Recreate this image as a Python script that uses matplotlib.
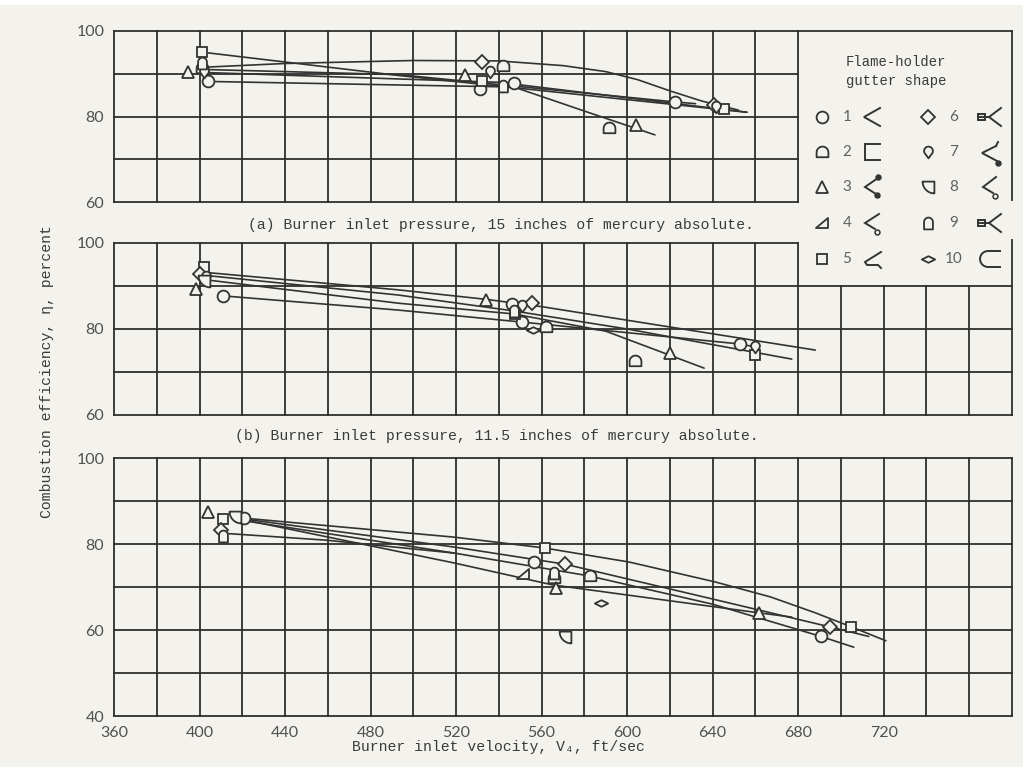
import numpy as np
import matplotlib
matplotlib.use('Agg')
import matplotlib.pyplot as plt
from matplotlib.path import Path
from matplotlib.patches import Rectangle

# ==============================================================================
# DATA
# gutter shape of each test point, burner inlet velocity (ft/sec), efficiency (%)
# ==============================================================================
# (a) burner inlet pressure 15 in. Hg abs
a_shape = [5, 9, 2, 7, 3, 1, 6, 7, 2, 3, 5, 1, 9, 1, 1, 6, 7, 5, 2, 3]
a_vel = [401, 401, 401, 402, 394.5, 404, 532, 536, 542, 524, 532, 531, 542, 547,
         622.5, 640.5, 641.5, 645.5, 591.5, 604]
a_eff = [95.0, 92.6, 91.3, 90.5, 90.3, 88.2, 92.8, 90.5, 91.8, 89.7, 88.3, 86.5,
         87.2, 87.8, 83.4, 82.8, 82.2, 81.8, 77.3, 78.0]

# (b) burner inlet pressure 11.5 in. Hg abs
b_shape = [5, 6, 7, 8, 3, 1, 3, 1, 7, 6, 9, 5, 1, 10, 2, 2, 3, 1, 7, 5]
b_vel = [402, 400, 403, 402, 398.5, 411, 534, 546, 551, 555.5, 547, 547.5, 551,
         556, 562, 603.5, 620, 653, 660, 660]
b_eff = [94.4, 92.8, 92.0, 91.2, 89.3, 87.7, 86.7, 85.8, 85.3, 86.0, 84.3, 83.6,
         81.6, 79.8, 80.5, 72.6, 74.4, 76.5, 75.8, 74.0]

# (c) third pressure level
c_shape = [3, 5, 8, 1, 6, 9, 5, 1, 4, 9, 2, 3, 6, 2, 10, 8, 3, 1, 6, 5]
c_vel = [404, 411, 416.5, 421, 410, 411, 561.5, 556.5, 551.5, 566, 566, 566.5,
         571, 582.5, 588, 571, 661.5, 690.5, 695, 704.5]
c_eff = [87.4, 85.8, 86.3, 86.0, 83.3, 81.9, 79.1, 75.8, 73.0, 73.3, 72.1, 69.8,
         75.3, 72.6, 66.3, 58.4, 64.0, 58.6, 60.7, 60.7]

# faired curves (velocity / efficiency points)
a_fair_vel = [[401, 440, 500, 540, 570, 590, 605, 620, 635, 652],
              [402, 493, 580, 656],
              [402, 493, 622.5, 632],
              [402, 540, 656],
              [404, 512, 547, 581, 613]]
a_fair_eff = [[91.5, 92.4, 93.1, 93.0, 91.9, 90.5, 88.6, 86.0, 83.6, 81.5],
              [95.0, 89.6, 85.0, 81.0],
              [91.0, 89.8, 83.4, 83.0],
              [90.3, 88.0, 81.0],
              [88.2, 87.2, 86.9, 81.1, 75.7]]

b_fair_vel = [[402, 493, 534, 560, 688],
              [402, 493, 547, 600, 677],
              [402, 493, 547, 590, 636],
              [411, 493, 551, 653, 660]]
b_fair_eff = [[93.2, 89.1, 86.9, 85.2, 75.1],
              [92.5, 87.9, 84.2, 80.0, 73.0],
              [91.5, 86.0, 83.5, 79.5, 70.9],
              [87.7, 84.4, 81.6, 76.5, 75.8]]

c_fair_vel = [[421, 519, 561, 601, 641, 667, 688, 705, 721],
              [421, 519, 571, 640, 695, 713],
              [421, 519, 565, 661.5, 677],
              [421, 519, 582, 640, 690, 706],
              [411, 459, 519]]
c_fair_eff = [[86.0, 81.6, 79.1, 75.8, 71.2, 67.7, 64.0, 60.7, 57.5],
              [85.8, 79.3, 75.3, 67.2, 60.7, 58.5],
              [85.6, 75.6, 70.5, 64.0, 63.0],
              [85.4, 77.9, 72.6, 66.0, 58.6, 56.0],
              [82.5, 80.9, 77.9]]

x_ticks = [360, 400, 440, 480, 520, 560, 600, 640, 680, 720]
legend_numbers = [1, 2, 3, 4, 5, 6, 7, 8, 9, 10]

# ==============================================================================
# STYLE
# ==============================================================================
W, H = 1023, 767
PAPER = '#f3f2ed'
INK = '#333333'
GRID = '#2e2e2e'
MONO = ['Liberation Mono', 'DejaVu Sans Mono']
SANS = ['Lato', 'DejaVu Sans']


def fx(px):
    return px / W


def fy(py):
    return 1 - py / H


def arco(cx, cy, r, t0, t1, n=18):
    t = np.linspace(t0, t1, n)
    return list(zip(cx + r * np.cos(t), cy + r * np.sin(t)))


def caminho(verts):
    return Path(verts + [verts[0]], closed=True)


house = caminho([(-1, -0.8), (1, -0.8), (1, 0)] + arco(0, 0, 1, 0, np.pi)[1:])
tall_d = caminho([(-0.75, -1), (0.75, -1), (0.75, 0.25)] + arco(0, 0.25, 0.75, 0, np.pi)[1:])
drop = caminho(arco(0, 0.25, 0.75, -0.9, np.pi + 0.9) + [(0, -1)])
quarter = caminho([(-1, 1), (1, 1), (1, -1)] + arco(1, 1, 2, 1.5 * np.pi, np.pi)[1:-1])
rtri = caminho([(-1, -0.9), (1, -0.9), (1, 0.9)])
flat_d = caminho([(-1, 0), (0, 0.5), (1, 0), (0, -0.5)])

MARKERS = {1: ('o', 8.5), 2: (house, 8.5), 3: ('^', 8.5), 4: (rtri, 8.5),
           5: ('s', 7.5), 6: ('D', 7.0), 7: (drop, 8.5), 8: (quarter, 8.5),
           9: (tall_d, 8.5), 10: (flat_d, 9.5)}


def draw_marker(ax, shape, x, y, **kw):
    m, ms = MARKERS[shape]
    ax.plot(x, y, ls='none', marker=m, ms=ms, mfc=PAPER, mec=INK, mew=1.3,
            zorder=5, **kw)


def draw_grid(ax, vlines, hlines):
    for v, lo, hi in vlines:
        ax.plot([v, v], [lo, hi], color=GRID, lw=1.3, clip_on=False, zorder=1)
    for e, lo, hi in hlines:
        ax.plot([lo, hi], [e, e], color=GRID, lw=1.3, clip_on=False, zorder=1)


def draw_panel(ax, shapes, vel, eff, fair_vel, fair_eff):
    for fv, fe in zip(fair_vel, fair_eff):
        ax.plot(fv, fe, color=INK, lw=1.2, zorder=3, solid_capstyle='round')
    for s in sorted(set(shapes)):
        xs = [v for v, sh in zip(vel, shapes) if sh == s]
        ys = [e for e, sh in zip(eff, shapes) if sh == s]
        draw_marker(ax, s, xs, ys)


def style_axes(ax, ylim, yticks, xlabels):
    ax.set_xlim(360, 780)
    ax.set_ylim(*ylim)
    ax.set_facecolor('none')
    for sp in ax.spines.values():
        sp.set_visible(False)
    ax.set_yticks(yticks)
    ax.set_yticklabels([str(t) for t in yticks])
    if xlabels:
        ax.set_xticks(x_ticks)
        ax.set_xticklabels([str(t) for t in x_ticks])
    else:
        ax.set_xticks([])
    ax.tick_params(length=0, labelsize=11.5, labelcolor='#505050', pad=7)
    for lab in ax.get_xticklabels() + ax.get_yticklabels():
        lab.set_family(SANS)


# ==============================================================================
# FIGURE
# ==============================================================================
fig = plt.figure(figsize=(W / 100, H / 100), dpi=100, facecolor=PAPER)
fig.patches.append(Rectangle((0, fy(5)), 1, 1 - fy(5), transform=fig.transFigure,
                             facecolor='white', edgecolor='none', zorder=0))

left, width = fx(114), fx(1012) - fx(114)
ax_a = fig.add_axes([left, fy(202), width, fy(31) - fy(202)])
ax_b = fig.add_axes([left, fy(415), width, fy(243) - fy(415)])
ax_c = fig.add_axes([left, fy(716), width, fy(458) - fy(716)])

style_axes(ax_a, (60, 100), [60, 80, 100], False)
style_axes(ax_b, (60, 100), [60, 80, 100], False)
style_axes(ax_c, (40, 100), [40, 60, 80, 100], True)

grade_x = list(range(360, 681, 20))
draw_grid(ax_a,
          [(v, 60, 100) for v in grade_x] + [(780, 60.5, 100)],
          [(e, 360, 680) for e in (60, 70, 80, 90)] + [(100, 360, 780)])
draw_grid(ax_b,
          [(v, 60, 100) for v in grade_x] + [(v, 60, 90) for v in (700, 720, 740, 760)]
          + [(780, 60, 100.7)],
          [(100, 360, 680)] + [(e, 360, 780) for e in (60, 70, 80, 90)])
draw_grid(ax_c,
          [(v, 40, 100) for v in range(360, 781, 20)],
          [(e, 360, 780) for e in range(40, 101, 10)])

draw_panel(ax_a, a_shape, a_vel, a_eff, a_fair_vel, a_fair_eff)
draw_panel(ax_b, b_shape, b_vel, b_eff, b_fair_vel, b_fair_eff)
draw_panel(ax_c, c_shape, c_vel, c_eff, c_fair_vel, c_fair_eff)

# captions and axis titles (typewriter text)
fig.text(fx(248), fy(225), '(a) Burner inlet pressure, 15 inches of mercury absolute.',
         family=MONO, fontsize=10.6, color='#3a3a3a', va='center', ha='left')
fig.text(fx(235), fy(436), '(b) Burner inlet pressure, 11.5 inches of mercury absolute.',
         family=MONO, fontsize=10.6, color='#3a3a3a', va='center', ha='left')
fig.text(fx(47), fy(372), 'Combustion efficiency, \u03b7, percent', rotation=90,
         family=MONO, fontsize=10.6, color='#3a3a3a', va='center', ha='center')
fig.text(fx(352), fy(747), 'Burner inlet velocity, V\u2084, ft/sec',
         family=MONO, fontsize=10.6, color='#3a3a3a', va='center', ha='left')

# ==============================================================================
# LEGEND BOX (flame-holder gutter shape)
# ==============================================================================
ax_l = fig.add_axes([fx(800), fy(285), fx(1010) - fx(800), fy(31) - fy(285)])
ax_l.set_xlim(0, 210)
ax_l.set_ylim(254, 0)
ax_l.axis('off')
ax_l.text(96, 31, 'Flame-holder', family=MONO, fontsize=10, color='#3a3a3a',
          ha='center', va='center')
ax_l.text(96, 50, 'gutter shape', family=MONO, fontsize=10, color='#3a3a3a',
          ha='center', va='center')

chevron = [(8, -9), (-8, 0), (8, 9)]
glyphs = {
    1: [chevron],
    2: [[(8, -8), (-7, -8), (-7, 8), (8, 8)]],
    3: [[(6, -9), (-7, 0), (4, 7), (7, 10)]],
    4: [[(7, -9), (-7, 0), (3, 6)]],
    5: [[(9, -7), (-7, 3), (-5, 6), (6, 6), (9, 9)]],
    6: [[(11, -9), (-1, 0), (11, 9)], [(-12, -3), (-5, -3), (-5, 3), (-12, 3), (-12, -3)],
        [(-12, 0), (-1, 0)]],
    7: [[(6, -6), (-8, 1), (7, 9)], [(6, -6), (8, -10)]],
    8: [[(6, -10), (-7, 0), (3, 6)]],
    9: [[(11, -9), (-1, 0), (11, 9)], [(-12, -3), (-5, -3), (-5, 3), (-12, 3), (-12, -3)],
        [(-12, 0), (-1, 0)]],
    10: [[(10, -8), (-2, -8)] + [(-2 + 8 * np.cos(t), 8 * np.sin(t))
                               for t in np.linspace(-np.pi / 2, -1.5 * np.pi, 12)]
         + [(10, 8)]],
}
dots = {3: [(6, -10), (5, 8)], 4: [(5, 9)], 8: [(5, 9)], 7: [(8, 11)]}

row_y = [86, 121, 156, 192, 228]
for i, n in enumerate(legend_numbers):
    col, row = divmod(i, 5)
    mx, nx, gx = (22, 47, 72) if col == 0 else (128, 154, 190)
    y = row_y[row]
    draw_marker(ax_l, n, [mx], [y])
    ax_l.text(nx, y, str(n), family=SANS, fontsize=11, color='#606060',
              ha='center', va='center')
    for seg in glyphs[n]:
        ax_l.plot([gx + p[0] for p in seg], [y + p[1] for p in seg], color=INK,
                  lw=1.4, solid_joinstyle='miter')
    for d in dots.get(n, []):
        ax_l.plot(gx + d[0], y + d[1], 'o', ms=3.5, mfc=PAPER if n in (4, 8) else INK,
                  mec=INK, mew=1.1)

fig.savefig('out.png', dpi=100, facecolor=PAPER)
plt.close(fig)
